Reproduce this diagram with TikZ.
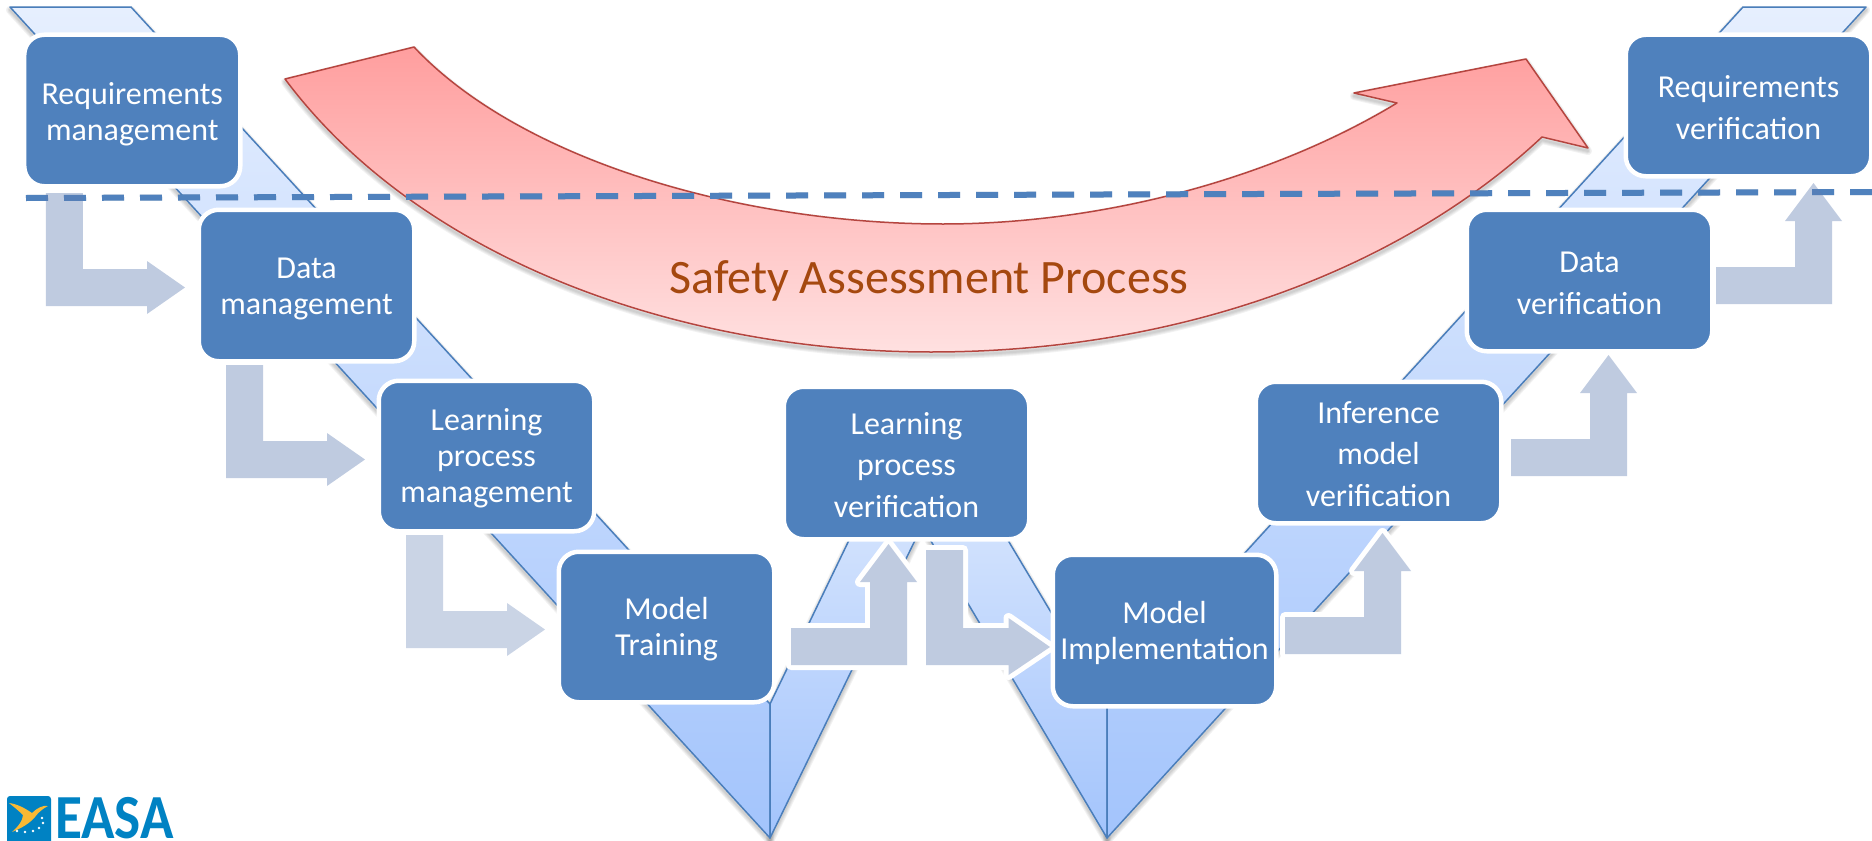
\documentclass[tikz,border=0pt]{standalone}
\usepackage{fontspec}
\setmainfont{Carlito}
\usepackage{tikz}
\usetikzlibrary{calc, positioning}
\definecolor{stepblue}{HTML}{4F81BD}
\definecolor{bandline}{HTML}{4A7EBB}
\definecolor{bandtop}{HTML}{E6EFFE}
\definecolor{bandbottom}{HTML}{A3C4FC}
\definecolor{flowblue}{HTML}{5F7DB1}
\definecolor{flowsolid}{HTML}{BFCBE0}
\definecolor{redline}{HTML}{B5453F}
\definecolor{safetytext}{HTML}{A5480F}
\definecolor{easablue}{HTML}{0082C3}
\definecolor{easayellow}{HTML}{F9B934}
\tikzstyle{step box}=[rectangle,fill=stepblue,draw=white,line width=4.5bp,rounded corners=20bp,text=white,align=center,inner sep=0pt,outer sep=0pt]
\tikzstyle{mgmt font}=[font=\fontsize{32.1}{36.2}\selectfont]
\tikzstyle{verif font}=[font=\fontsize{32.1}{41.6}\selectfont]
\tikzstyle{band}=[top color=bandtop,bottom color=bandbottom,draw=bandline,line width=1.5bp,line join=round]
\tikzstyle{flow}=[fill=flowblue,fill opacity=.4]
\tikzstyle{flow solid}=[fill=flowsolid,preaction={draw=white,line width=10bp,line join=round}]
\def\lift#1{\rule{0pt}{#1pt}}
\def\leftband{(10,7) -- (131,7) -- (770,704) -- (770,838) -- cycle}
\def\midband{(770,704) -- (920,393) -- (1107,706) -- (1107,838) -- (922,526) -- (770,838) -- cycle}
\def\rightband{(1107,704) -- (1743,7) -- (1866,7) -- (1107,838) -- cycle}
\def\safetyarrow{(285,79) -- (414,47) .. controls (520,160) and (740,224) .. (943,224) .. controls (1100,224) and (1270,180) .. (1397,103) -- (1354,93) -- (1526,59) -- (1588,148) -- (1542,137) .. controls (1400,270) and (1180,352) .. (931,352) .. controls (680,352) and (420,260) .. (285,79) -- cycle}
\def\softshadow#1{\foreach \wd in {2,4,6,8} \draw[black,opacity=.05,line width=\wd bp,line join=round,yshift=-3bp] #1;}
\def\bentdown{(0,0) -- (37,0) -- (37,76) -- (101,76) -- (101,68) -- (139,94.5) -- (101,121) -- (101,113) -- (0,113) -- cycle}
\def\bentup{(0,0) -- (0,-37) -- (79,-37) -- (79,-83) -- (69,-83) -- (97.5,-121) -- (126,-83) -- (116,-83) -- (116,0) -- cycle}
\begin{document}
\begin{tikzpicture}[x=1bp,y=-1bp]
	\useasboundingbox (0,0) rectangle (1872,841);

	% The V shaped bands
	\softshadow{\leftband}
	\softshadow{\midband}
	\softshadow{\rightband}
	\path[band] \leftband;
	\path[band] \midband;
	\path[band] \rightband;

	% Safety arrow
	\softshadow{\safetyarrow}
	\path[top color=red!38,bottom color=red!12,draw=redline,line width=1.5bp,line join=round] \safetyarrow;
	\node[text=safetytext,font=\fontsize{48.2}{50}\selectfont] (safety) at (929,280.5) {Safety Assessment Process};

	% Dashed line
	\coordinate (dashstart) at (26,198);
	\coordinate (dashend) at (1872,192);
	\draw[black,opacity=.15,line width=6bp,dash pattern=on 22bp off 16bp,yshift=-3bp] (dashstart) -- (dashend);
	\draw[stepblue,line width=6bp,dash pattern=on 22bp off 16bp] (dashstart) -- (dashend);

	% Draw the step boxes
	\node[step box,mgmt font,minimum width=216bp,minimum height=151.5bp] (req) at (132.25,110.5) {\lift{29}Requirements\\management};
	\node[step box,mgmt font,minimum width=215.5bp,minimum height=151.5bp] (data) at (306.5,285.5) {\lift{28}Data\\management};
	\node[step box,mgmt font,minimum width=215.5bp,minimum height=150.5bp] (lpm) at (486.5,456) {\lift{27}Learning\\process\\management};
	\node[step box,mgmt font,minimum width=215.5bp,minimum height=150.5bp] (train) at (666.5,627) {\lift{27}Model\\Training};
	\node[step box,verif font,minimum width=245.5bp,minimum height=152.5bp] (lpv) at (906.5,463) {\lift{26}Learning\\process\\verification};
	\node[step box,mgmt font,minimum width=223.5bp,minimum height=151.5bp] (impl) at (1164.5,630.5) {\lift{28}Model\\Implementation};
	\node[step box,verif font,minimum width=245.5bp,minimum height=141.5bp] (inf) at (1378.5,452.5) {\lift{25}Inference\\model\\verification};
	\node[step box,verif font,minimum width=245.5bp,minimum height=141.5bp] (dataver) at (1589.5,280.5) {\lift{26}Data\\verification};
	\node[step box,verif font,minimum width=245.5bp,minimum height=141.5bp] (reqver) at (1748.5,105.5) {\lift{26}Requirements\\verification};

	% Bent arrows, going down then up the V
	\path[flow,shift={($(req.south west)+(21.75,6.75)$)}] \bentdown;
	\path[flow,shift={($(data.south west)+(27.25,3.75)$)}] \bentdown;
	\path[flow,fill opacity=.33,shift={($(lpm.south west)+(27.25,3.75)$)}] \bentdown;
	\path[flow solid,shift={($(lpv.south)+(19.5,10.75)$)}] (0,0) -- (37,0) -- (37,78) -- (82.5,78) -- (82.5,68) -- (124,97) -- (82.5,125) -- (82.5,115) -- (0,115) -- cycle;
	\path[flow solid,shift={($(train.east)+(16.75,38)$)}] \bentup;
	\path[flow solid,shift={($(impl.east)+(8.75,23.5)$)}] \bentup;
	\path[flow,shift={($(inf.east)+(9.75,23.5)$)}] \bentup;
	\path[flow,shift={($(dataver.east)+(3.75,23.5)$)}] \bentup;

	% Logo
	\fill[easablue,rounded corners=3bp] (7,796) rectangle (51,845);
	\fill[easayellow] (9,803) .. controls (18,804) and (26,809) .. (32,813) .. controls (37,808) and (43,805) .. (48,806) .. controls (42,809) and (38,813) .. (35,817) .. controls (30,823) and (22,828) .. (12,832) .. controls (18,827) and (23,820) .. (23,815) .. controls (19,811) and (14,807) .. (9,803) -- cycle;
	\foreach \sx/\sy in {42/818,43/823,39/828,33/831,25/832,17/831}
	\fill[white] (\sx,\sy) circle (1.3);
	\node[text=easablue,font=\fontsize{63}{63}\selectfont\bfseries,xscale=.88,anchor=base west,inner sep=0pt] (easa) at (55,838) {EASA};
\end{tikzpicture}
\end{document}
